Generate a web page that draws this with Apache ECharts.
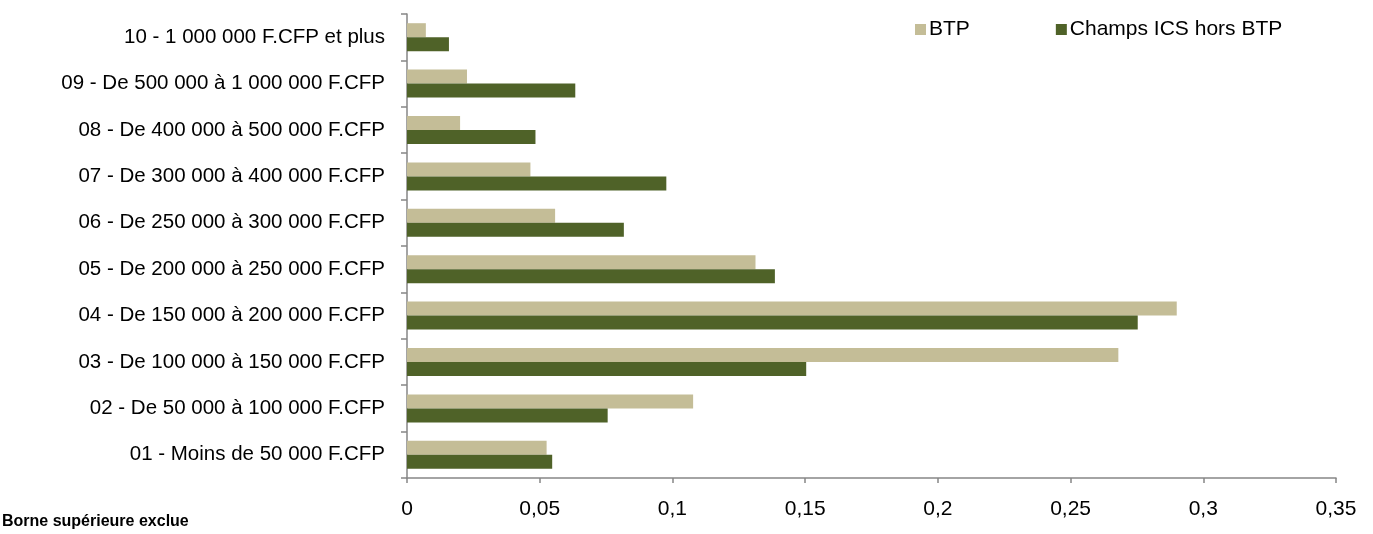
<!DOCTYPE html>
<html>
<head>
<meta charset="utf-8">
<script src="https://cdn.jsdelivr.net/npm/echarts@6/dist/echarts.min.js"></script>
<style>
html,body{margin:0;padding:0;background:#fff;}
#chart{width:1373px;height:534px;}
</style>
</head>
<body>
<div id="chart"></div>
<script>
const categories = [
  "01 - Moins de 50 000 F.CFP",
  "02 - De 50 000 à 100 000 F.CFP",
  "03 - De 100 000 à 150 000 F.CFP",
  "04 - De 150 000 à 200 000 F.CFP",
  "05 - De 200 000 à 250 000 F.CFP",
  "06 - De 250 000 à 300 000 F.CFP",
  "07 - De 300 000 à 400 000 F.CFP",
  "08 - De 400 000 à 500 000 F.CFP",
  "09 - De 500 000 à 1 000 000 F.CFP",
  "10 - 1 000 000 F.CFP et plus"
];
const btp = [0.0526, 0.1078, 0.268, 0.290, 0.1313, 0.0558, 0.0465, 0.020, 0.0226, 0.0071];
const champs = [0.0547, 0.0756, 0.1504, 0.2753, 0.1386, 0.0817, 0.0977, 0.0484, 0.0634, 0.0158];
const seriesNames = ["BTP", "Champs ICS hors BTP"];
const footnote = "Borne supérieure exclue";

const font = "'Liberation Sans', Arial, sans-serif";
const chart = echarts.init(document.getElementById('chart'));
chart.setOption({
  animation: false,
  textStyle: { fontFamily: font },
  grid: { left: 407, right: 37, top: 14, bottom: 56, containLabel: false },
  legend: {
    left: 910, top: 14,
    itemWidth: 11, itemHeight: 11, itemGap: 86,
    icon: 'rect',
    textStyle: { fontSize: 21, color: '#000', fontFamily: font, padding: [0,0,0,-2] },
    data: seriesNames
  },
  graphic: [{
    type: 'text', left: 2, top: 514,
    style: { text: footnote, font: "bold 16px 'Liberation Sans', Arial, sans-serif", fill: '#000' }
  }],
  xAxis: {
    type: 'value', min: 0, max: 0.35, interval: 0.05,
    splitLine: { show: false },
    axisLine: { show: true, lineStyle: { color: '#868686', width: 1.5 } },
    axisTick: { show: true, length: 5, lineStyle: { color: '#868686', width: 1.5 } },
    axisLabel: { fontSize: 21, color: '#000', margin: 21, fontFamily: font,
      formatter: v => String(+v.toFixed(2)).replace('.', ',') }
  },
  yAxis: {
    type: 'category', data: categories,
    axisLine: { show: true, lineStyle: { color: '#868686', width: 1.5 } },
    axisTick: { show: true, length: 6, lineStyle: { color: '#868686', width: 1.5 } },
    axisLabel: { fontSize: 20.5, color: '#000', margin: 22, fontFamily: font }
  },
  series: [
    { name: seriesNames[0], type: 'bar', data: btp, barWidth: 14, barGap: '0%',
      itemStyle: { color: '#C4BD97' } },
    { name: seriesNames[1], type: 'bar', data: champs, barWidth: 14, barGap: '0%',
      itemStyle: { color: '#4F6228' } }
  ]
});
</script>
</body>
</html>
